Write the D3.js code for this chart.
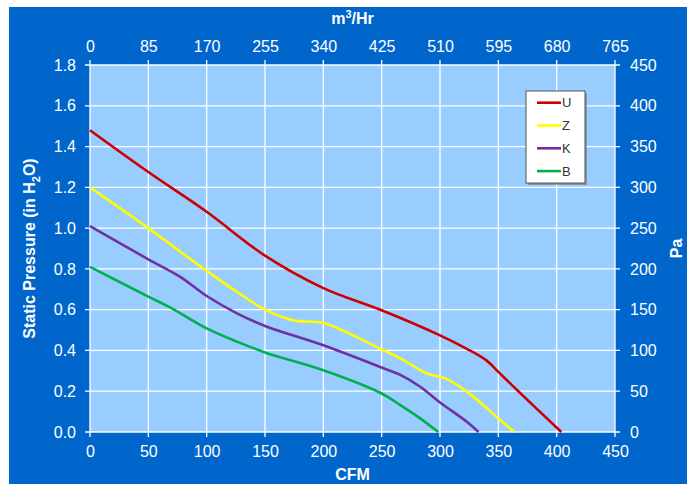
<!DOCTYPE html>
<html>
<head>
<meta charset="utf-8">
<script src="https://cdn.jsdelivr.net/npm/d3@7"></script>
<style>
  html, body { margin: 0; padding: 0; background: #ffffff; }
  svg { display: block; }
  text { font-family: "Liberation Sans", Arial, sans-serif; }
</style>
</head>
<body>
<script>
// ---- data ----
const seriesNames = ["U", "Z", "K", "B"];
const seriesColors = ["#cc0000", "#ffff00", "#7030a0", "#00b050"];
const cfmU = [0, 50, 100, 150, 200, 250, 300, 323, 340, 350, 366, 404];
const pU   = [1.48, 1.275, 1.08, 0.865, 0.706, 0.597, 0.474, 0.408, 0.35, 0.295, 0.206, 0];
const cfmZ = [0, 50, 100, 137, 150, 174, 200, 222, 250, 266, 289, 305, 323, 350, 363.5];
const pZ   = [1.2, 1.0, 0.79, 0.645, 0.6, 0.548, 0.535, 0.484, 0.405, 0.361, 0.287, 0.262, 0.198, 0.067, 0];
const cfmK = [0, 50, 77, 100, 126, 150, 200, 250, 266, 283, 300, 323, 333];
const pK   = [1.01, 0.847, 0.762, 0.667, 0.582, 0.52, 0.425, 0.316, 0.28, 0.222, 0.145, 0.05, 0];
const cfmB = [0, 50, 69, 100, 126, 150, 200, 250, 266, 283, 298.5];
const pB   = [0.81, 0.664, 0.61, 0.508, 0.443, 0.39, 0.303, 0.189, 0.132, 0.067, 0];
const bottomTicks = [0, 50, 100, 150, 200, 250, 300, 350, 400, 450];
const topTickLabels = ["0", "85", "170", "255", "340", "425", "510", "595", "680", "765"];
const leftTicks = [0, 0.2, 0.4, 0.6, 0.8, 1.0, 1.2, 1.4, 1.6, 1.8];
const rightTicks = [0, 50, 100, 150, 200, 250, 300, 350, 400, 450];

const seriesX = [cfmU, cfmZ, cfmK, cfmB];
const seriesY = [pU, pZ, pK, pB];

// ---- layout ----
const W = 687, H = 484;
const L = 90, R = 615, T = 65, B = 432;
const svg = d3.select("body").append("svg").attr("width", W).attr("height", H);

svg.append("rect").attr("x", 9).attr("y", 7).attr("width", W - 9).attr("height", H - 7).attr("fill", "#0066cc");
svg.append("rect").attr("x", L).attr("y", T).attr("width", R - L).attr("height", B - T).attr("fill", "#99ccff");

const x = d3.scaleLinear().domain([0, 450]).range([L, R]);
const y = d3.scaleLinear().domain([0, 1.8]).range([B, T]);
const yR = d3.scaleLinear().domain([0, 450]).range([B, T]);
const xTop = d3.scaleLinear().domain([0, 450]).range([L, R]);

// grid
const grid = svg.append("g").attr("stroke", "#ffffff").attr("stroke-width", 1.3);
bottomTicks.forEach(v => grid.append("line").attr("x1", x(v)).attr("x2", x(v)).attr("y1", T - 5).attr("y2", B + 5));
leftTicks.forEach(v => grid.append("line").attr("x1", L - 5).attr("x2", R + 5).attr("y1", y(v)).attr("y2", y(v)));

const fs = "16px";
function styleAxis(g) {
  g.select(".domain").remove();
  g.selectAll(".tick line").remove();
  g.selectAll("text").attr("fill", "#ffffff").style("font-size", fs).style("font-family", "'Liberation Sans', Arial, sans-serif");
}
svg.append("g").attr("transform", `translate(0,${B})`)
  .call(d3.axisBottom(x).tickValues(bottomTicks).tickSize(0).tickPadding(14))
  .call(styleAxis);
svg.append("g").attr("transform", `translate(0,${T})`)
  .call(d3.axisTop(xTop).tickValues(bottomTicks).tickFormat((d, i) => topTickLabels[i]).tickSize(0).tickPadding(13))
  .call(styleAxis);
svg.append("g").attr("transform", `translate(${L},0)`)
  .call(d3.axisLeft(y).tickValues(leftTicks).tickFormat(d3.format(".1f")).tickSize(0).tickPadding(14))
  .call(styleAxis);
svg.append("g").attr("transform", `translate(${R},0)`)
  .call(d3.axisRight(yR).tickValues(rightTicks).tickSize(0).tickPadding(15))
  .call(styleAxis);

// series
const line = d3.line().x(d => x(d[0])).y(d => y(d[1])).curve(d3.curveCatmullRom.alpha(0.5));
seriesNames.forEach((n, i) => {
  const pts = seriesX[i].map((c, j) => [c, seriesY[i][j]]);
  svg.append("path").datum(pts).attr("d", line).attr("fill", "none")
    .attr("stroke", seriesColors[i]).attr("stroke-width", 2.6);
});

// titles
svg.append("text").attr("x", (L + R) / 2).attr("y", 24).attr("text-anchor", "middle")
  .attr("fill", "#fff").style("font-size", fs).style("font-weight", "bold")
  .html('m<tspan dy="-6" style="font-size:11px">3</tspan><tspan dy="6">/Hr</tspan>');
svg.append("text").attr("x", (L + R) / 2).attr("y", 480).attr("text-anchor", "middle")
  .attr("fill", "#fff").style("font-size", fs).style("font-weight", "bold").text("CFM");
svg.append("text").attr("transform", `translate(35,${(T + B) / 2}) rotate(-90)`).attr("text-anchor", "middle")
  .attr("fill", "#fff").style("font-size", fs).style("font-weight", "bold")
  .html('Static Pressure (in H<tspan dy="5" style="font-size:11px">2</tspan><tspan dy="-5">O)</tspan>');
svg.append("text").attr("transform", `translate(682,${(T + B) / 2}) rotate(-90)`).attr("text-anchor", "middle")
  .attr("fill", "#fff").style("font-size", fs).style("font-weight", "bold").text("Pa");

// legend
const lg = svg.append("g");
lg.append("rect").attr("x", 528).attr("y", 93).attr("width", 59).attr("height", 92).attr("fill", "#666").attr("opacity", 0.5);
lg.append("rect").attr("x", 526).attr("y", 91).attr("width", 59).attr("height", 92)
  .attr("fill", "#ffffff").attr("stroke", "#555").attr("stroke-width", 1);
seriesNames.forEach((n, i) => {
  const yy = 102.7 + i * 22.8;
  lg.append("line").attr("x1", 537).attr("x2", 561).attr("y1", yy).attr("y2", yy)
    .attr("stroke", seriesColors[i]).attr("stroke-width", 2.6);
  lg.append("text").attr("x", 562).attr("y", yy + 4.5).attr("fill", "#333").style("font-size", "13px").text(n);
});
</script>
</body>
</html>
